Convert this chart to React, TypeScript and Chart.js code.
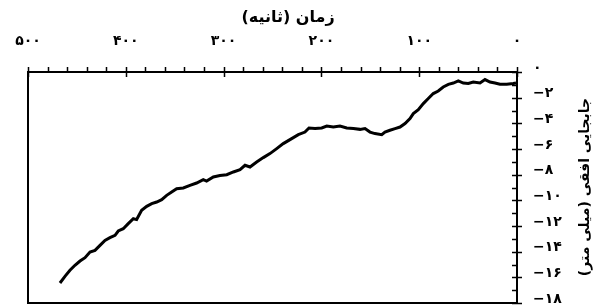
import React, { useEffect, useRef } from "react";
import { Chart, registerables } from "chart.js";

Chart.register(...registerables);

const timeSeconds = [
  1.0, 3.8, 10.5, 17.4, 22.5, 27.6, 32.7, 37.8, 44.7, 49.8, 54.9, 60.0, 65.1, 70.2,
  75.4, 80.5, 85.6, 90.7, 95.8, 100.9, 106.0, 109.4, 114.5, 119.6, 124.7, 129.9,
  135.0, 138.3, 145.2, 150.3, 155.4, 160.5, 167.3, 174.1, 181.0, 187.8, 194.5,
  199.7, 206.5, 212.7, 216.8, 223.6, 230.4, 239.0, 245.7, 252.6, 259.4, 266.2,
  273.0, 278.1, 283.2, 290.0, 296.8, 303.7, 310.5, 317.4, 320.8, 327.6, 334.4,
  341.2, 348.0, 353.1, 358.2, 363.3, 368.4, 373.5, 378.6, 383.8, 388.9, 392.3,
  397.5, 402.6, 407.7, 411.0, 416.2, 421.3, 426.4, 431.5, 436.6, 441.7, 446.8,
  452.0, 457.1, 462.2, 467.3,
];

const displacementMm = [
  -0.86, -0.9, -0.96, -0.96, -0.86, -0.78, -0.59, -0.86, -0.78, -0.9, -0.86, -0.7,
  -0.86, -0.96, -1.17, -1.48, -1.68, -2.07, -2.46, -2.93, -3.24, -3.63, -4.02,
  -4.29, -4.41, -4.54, -4.68, -4.88, -4.8, -4.68, -4.41, -4.47, -4.41, -4.36,
  -4.21, -4.29, -4.21, -4.36, -4.41, -4.36, -4.68, -4.88, -5.19, -5.58, -5.97,
  -6.36, -6.67, -7.01, -7.4, -7.27, -7.61, -7.79, -8.0, -8.07, -8.18, -8.5, -8.39,
  -8.65, -8.83, -9.04, -9.09, -9.35, -9.61, -9.95, -10.13, -10.26, -10.47, -10.78,
  -11.5, -11.43, -11.82, -12.21, -12.39, -12.73, -12.91, -13.12, -13.51, -13.9,
  -14.03, -14.47, -14.73, -15.06, -15.45, -15.92, -16.44,
];

const xTitle = "زمان (ثانیه)";
const yTitle = "جابجایی افقی (میلی متر)";
const xTickValues = [0, 100, 200, 300, 400, 500];
const yTickValues = [0, -2, -4, -6, -8, -10, -12, -14, -16, -18];

const FONT = "'DejaVu Sans', sans-serif";
const persianDigits = "۰۱۲۳۴۵۶۷۸۹";
const toPersian = (n: number) => {
  const s = String(Math.abs(n)).replace(/[0-9]/g, (d) => persianDigits[Number(d)]);
  return n < 0 ? "−" + s : s;
};

const framePlugin = {
  id: "frame",
  afterDraw(chart: any) {
    const { ctx, chartArea } = chart;
    const xs = chart.scales.x;
    const ys = chart.scales.y;
    ctx.save();
    ctx.strokeStyle = "#000";
    ctx.lineWidth = 2;
    ctx.strokeRect(chartArea.left, chartArea.top, chartArea.right - chartArea.left, chartArea.bottom - chartArea.top);
    ctx.lineWidth = 1.5;
    ctx.beginPath();
    for (let v = 0; v <= 500; v += 20) {
      const px = Math.round(xs.getPixelForValue(v)) + 0.5;
      if (v % 100 === 0) {
        ctx.moveTo(px, chartArea.top - 5);
        ctx.lineTo(px, chartArea.top + 5);
      } else {
        ctx.moveTo(px, chartArea.top - 5);
        ctx.lineTo(px, chartArea.top);
      }
    }
    for (let v = 0; v >= -18; v -= 1) {
      const py = Math.round(ys.getPixelForValue(v)) + 0.5;
      if (v % 2 === 0) {
        ctx.moveTo(chartArea.right - 5, py);
        ctx.lineTo(chartArea.right + 5, py);
      } else {
        ctx.moveTo(chartArea.right - 5, py);
        ctx.lineTo(chartArea.right, py);
      }
    }
    ctx.stroke();

    ctx.fillStyle = "#000";
    (ctx as any).direction = "rtl";
    ctx.textAlign = "center";
    ctx.textBaseline = "middle";
    ctx.font = `bold 16px ${FONT}`;
    ctx.fillText(xTitle, 288, 18);

    ctx.font = `bold 14px ${FONT}`;
    ctx.translate(585, 187);
    ctx.rotate(-Math.PI / 2);
    ctx.fillText(yTitle, 0, 0);
    ctx.restore();
  },
};

export default function App() {
  const ref = useRef<HTMLCanvasElement | null>(null);

  useEffect(() => {
    document.body.style.margin = "0";
    const canvas = ref.current;
    if (!canvas) return;
    const chart = new Chart(canvas, {
      type: "line",
      data: {
        datasets: [
          {
            data: timeSeconds.map((t, i) => ({ x: t, y: displacementMm[i] })),
            borderColor: "#000",
            borderWidth: 3,
            pointRadius: 0,
            tension: 0,
            fill: false,
          },
        ],
      },
      options: {
        responsive: false,
        animation: false,
        devicePixelRatio: 1,
        layout: { padding: { left: 28, right: 0, top: 0, bottom: 2 } },
        plugins: {
          legend: { display: false },
          tooltip: { enabled: false },
          title: { display: false },
        },
        scales: {
          x: {
            type: "linear",
            position: "top",
            reverse: true,
            min: 0,
            max: 500,
            afterBuildTicks: (s: any) => {
              s.ticks = xTickValues.map((v) => ({ value: v }));
            },
            ticks: {
              autoSkip: false,
              maxRotation: 0,
              color: "#000",
              padding: 22,
              font: { family: FONT, size: 14, weight: "bold" },
              callback: (v: any) => toPersian(Number(v)),
            },
            grid: { display: false, drawTicks: false },
            border: { display: false },
            afterFit: (s: any) => {
              s.height = 72;
              s.paddingLeft = 0;
              s.paddingRight = 0;
            },
          },
          y: {
            type: "linear",
            position: "right",
            min: -18,
            max: 0,
            afterBuildTicks: (s: any) => {
              s.ticks = yTickValues.map((v) => ({ value: v }));
            },
            ticks: {
              autoSkip: false,
              color: "#000",
              padding: 16,
              font: { family: FONT, size: 14, weight: "bold", lineHeight: "8px" },
              callback: (v: any) => [toPersian(Number(v)), ""],
            },
            grid: { display: false, drawTicks: false },
            border: { display: false },
            afterFit: (s: any) => {
              s.width = 83;
              s.paddingTop = 0;
              s.paddingBottom = 0;
            },
          },
        },
      },
      plugins: [framePlugin],
    });
    return () => chart.destroy();
  }, []);

  return <canvas ref={ref} width={600} height={305} style={{ display: "block" }} />;
}
